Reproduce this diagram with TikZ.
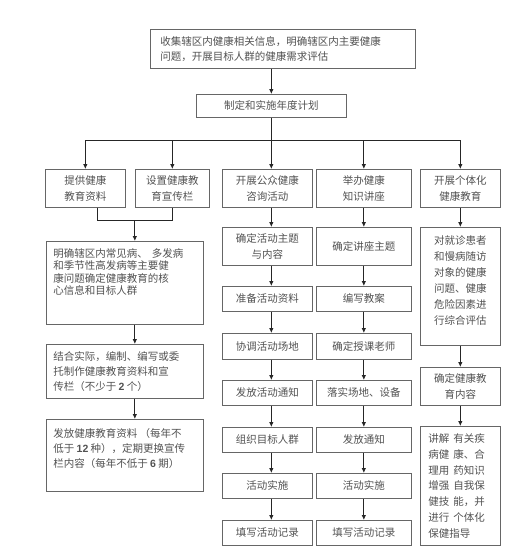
\documentclass[tikz,border=0pt]{standalone}
\usepackage{fontspec}
\setmainfont{Noto Sans CJK SC}
\newfontfamily\numf{Liberation Sans}
\usetikzlibrary{arrows.meta,calc}
\tikzset{
  box/.style={draw=black!60, line width=0.7pt, inner xsep=4pt, inner ysep=3pt, anchor=north west, text=black!68},
  arr/.style={draw=black!85, line width=0.8pt, -{Latex[length=5pt,width=4.5pt]}},
  ln/.style={draw=black!85, line width=0.8pt}
}
\newcommand\bx[8]{%
  \pgfmathsetmacro\bxw{#4-#2-8}\pgfmathsetmacro\bxh{#5-#3-6}%
  \node[box] (#1) at (#2,-#3) {\begin{minipage}[t][\bxh pt][#6]{\bxw pt}#7#8\end{minipage}};}
\newcommand\fa{\fontsize{10.5}{16}\selectfont}
\newcommand\nb[1]{{\numf\bfseries #1}}
\begin{document}
\begin{tikzpicture}[x=1pt,y=1pt]
\useasboundingbox (0,0) rectangle (510,-555);
\fill[white] (0,0) rectangle (510,-555);
% top
\bx{T}{150}{29}{415}{68}{c}{\fontsize{10.5}{15}\selectfont\raggedright\leftskip=6pt}{收集辖区内健康相关信息，明确辖区内主要健康\\问题，开展目标人群的健康需求评估}
\bx{P}{196}{94}{346}{117}{c}{\fa\centering}{制定和实施年度计划}
% row 3
\bx{A}{45}{169}{125}{207}{c}{\fa\centering}{提供健康\\教育资料}
\bx{B}{135}{169}{209}{207}{c}{\fa\centering}{设置健康教\\育宣传栏}
\bx{C}{222}{169}{312}{207}{c}{\fa\centering}{开展公众健康\\咨询活动}
\bx{D}{316}{169}{411}{207}{c}{\fa\centering}{举办健康\\知识讲座}
\bx{E}{420}{169}{500}{207}{c}{\fa\centering}{开展个体化\\健康教育}
% left column
\bx{L1}{46}{241}{203}{324}{t}{\fontsize{10.5}{12.5}\selectfont\raggedright\leftskip=3pt\vspace*{4pt}}{明确辖区内常见病、\hspace{4pt}多发病\\和季节性高发病等主要健\\康问题确定健康教育的核\\心信息和目标人群}
\bx{L2}{46}{344}{203}{398}{c}{\fontsize{10.5}{15}\selectfont\raggedright\leftskip=3pt}{结合实际，编制、编写或委\\托制作健康教育资料和宣\\传栏（不少于 \nb{2} 个）}
\bx{L3}{46}{419}{203}{491}{t}{\fontsize{10.5}{15}\selectfont\raggedright\leftskip=3pt\vspace*{6pt}}{发放健康教育资料 （每年不\\低于 \nb{12} 种），定期更换宣传\\栏内容（每年不低于 \nb{6} 期）}
% column C
\bx{C1}{222}{227}{312}{265}{c}{\fa\centering}{确定活动主题\\与内容}
\bx{C2}{222}{286}{312}{311}{c}{\fa\centering}{准备活动资料}
\bx{C3}{222}{333}{312}{359}{c}{\fa\centering}{协调活动场地}
\bx{C4}{222}{380}{312}{405}{c}{\fa\centering}{发放活动通知}
\bx{C5}{222}{427}{312}{452}{c}{\fa\centering}{组织目标人群}
\bx{C6}{222}{473}{312}{498}{c}{\fa\centering}{活动实施}
\bx{C7}{222}{520}{312}{545}{c}{\fa\centering}{填写活动记录}
% column D
\bx{D1}{316}{227}{411}{265}{c}{\fa\centering}{确定讲座主题}
\bx{D2}{316}{286}{411}{311}{c}{\fa\centering}{编写教案}
\bx{D3}{316}{333}{411}{359}{c}{\fa\centering}{确定授课老师}
\bx{D4}{316}{380}{411}{405}{c}{\fa\centering}{落实场地、设备}
\bx{D5}{316}{427}{411}{452}{c}{\fa\centering}{发放通知}
\bx{D6}{316}{473}{411}{498}{c}{\fa\centering}{活动实施}
\bx{D7}{316}{520}{411}{545}{c}{\fa\centering}{填写活动记录}
% column E
\bx{E1}{420}{227}{500}{345}{t}{\fa\centering\vspace*{5pt}}{对就诊患者\\和慢病随访\\对象的健康\\问题、健康\\危险因素进\\行综合评估}
\bx{E2}{420}{367}{500}{405}{c}{\fa\centering}{确定健康教\\育内容}
\bx{E3}{420}{426}{500}{545}{c}{\fontsize{10.5}{15.8}\selectfont\raggedright\leftskip=4pt}{讲解\hspace{4pt}有关疾\\病健\hspace{4pt}康、合\\理用\hspace{4pt}药知识\\增强\hspace{4pt}自我保\\健技\hspace{4pt}能，并\\进行\hspace{4pt}个体化\\保健指导}
% connectors
\draw[arr] (T.south -| P.north) -- (P.north);
\coordinate (bus) at (0,-140);
\draw[ln] (P.south) -- (P.south |- bus);
\draw[ln] (A.north |- bus) -- (E.north |- bus);
\foreach \n in {A,B,D,E} \draw[arr] (\n.north |- bus) -- (\n.north);
\draw[arr] (P.south |- bus) -- (P.south |- C.north);
\coordinate (jl) at ([xshift=12pt,yshift=-13pt]A.south);
\coordinate (jr) at ([yshift=-13pt]B.south);
\draw[ln] ([xshift=12pt]A.south) -- (jl) -- (jr) -- (B.south);
\coordinate (jm) at ($(jl)!0.5!(jr)$);
\draw[arr] (jm) -- (jm |- L1.north);
\draw[arr] (L1.south -| jm) -- (L2.north -| jm);
\draw[arr] (L2.south -| jm) -- (L3.north -| jm);
\foreach \a/\b in {C/C1,C1/C2,C2/C3,C3/C4,C4/C5,C5/C6,C6/C7}
  \draw[arr] (\a.south -| P.south) -- (\b.north -| P.south);
\foreach \a/\b in {D/D1,D1/D2,D2/D3,D3/D4,D4/D5,D5/D6,D6/D7}
  \draw[arr] (\a.south) -- (\b.north);
\foreach \a/\b in {E/E1,E1/E2,E2/E3}
  \draw[arr] (\a.south) -- (\b.north);
\end{tikzpicture}
\end{document}
